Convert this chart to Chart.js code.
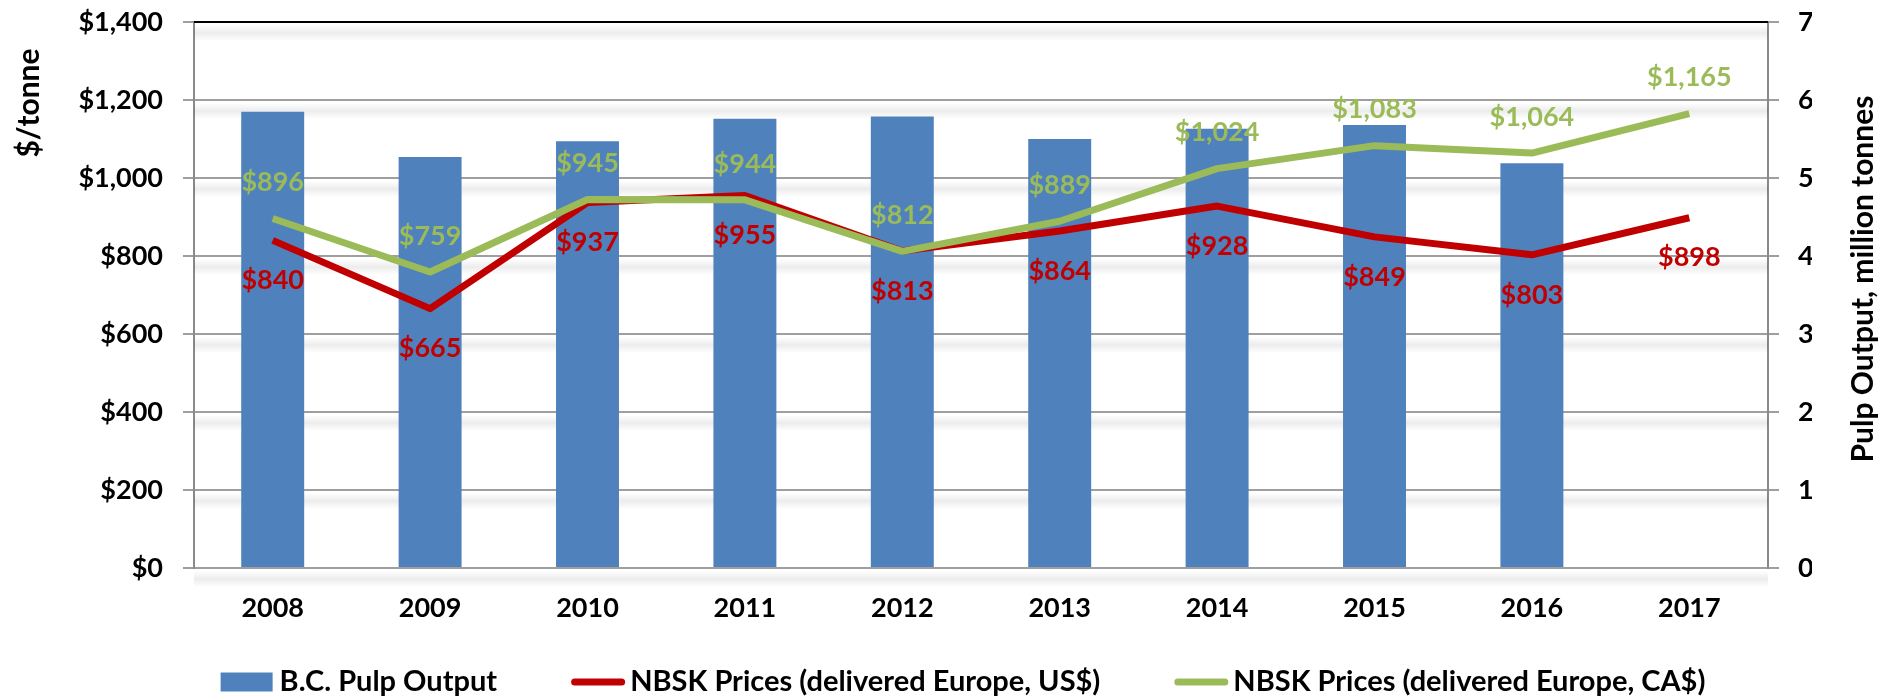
<!DOCTYPE html>
<html>
<head>
<meta charset="utf-8">
<title>B.C. Pulp Output and NBSK Prices</title>
<script src="https://cdn.jsdelivr.net/npm/chart.js@4.4.1/dist/chart.umd.min.js"></script>
<style>
  html, body { margin: 0; padding: 0; background: #ffffff; }
  #wrap { width: 1888px; height: 699px; position: relative; }
</style>
</head>
<body>
<div id="wrap"><canvas id="pulpChart"></canvas></div>
<script>
// values
const years = ["2008", "2009", "2010", "2011", "2012", "2013", "2014", "2015", "2016", "2017"];
const pulpOutput = [5.85, 5.27, 5.47, 5.76, 5.79, 5.50, 5.63, 5.68, 5.19, null]; // million tonnes
const nbskUS = [840, 665, 937, 955, 813, 864, 928, 849, 803, 898];
const nbskCA = [896, 759, 945, 944, 812, 889, 1024, 1083, 1064, 1165];
const seriesNames = [
  "B.C. Pulp Output",
  "NBSK Prices (delivered Europe, US$)",
  "NBSK Prices (delivered Europe, CA$)"
];
const priceAxisTitle = "$/tonne";
const outputAxisTitle = "Pulp Output, million tonnes";

const BLUE = "#4F81BD";
const RED = "#C00000";
const GREEN = "#9BBB59";
const GRID = "#9F9F9F";
const FONT = "Lato, 'Open Sans', sans-serif";

const money = (v) => "$" + v.toLocaleString("en-US");

document.addEventListener("DOMContentLoaded", function () {
  const ctx = document.getElementById("pulpChart").getContext("2d");

  // soft grey shadow under every gridline, like the original
  const gridShadow = {
    id: "gridShadow",
    beforeDatasetsDraw(chart) {
      const c = chart.ctx;
      const yScale = chart.scales.y;
      const { left, right } = chart.chartArea;
      c.save();
      yScale.ticks.forEach((t) => {
        const py = yScale.getPixelForValue(t.value);
        const g = c.createLinearGradient(0, py + 3, 0, py + 19);
        g.addColorStop(0, "rgba(0,0,0,0)");
        g.addColorStop(0.5, "rgba(0,0,0,0.075)");
        g.addColorStop(1, "rgba(0,0,0,0)");
        c.fillStyle = g;
        c.fillRect(left, py + 3, right - left, 16);
      });
      c.restore();
    }
  };

  // value labels: US$ below its line, CA$ above its line
  const pointLabels = {
    id: "pointLabels",
    afterDatasetsDraw(chart) {
      const c = chart.ctx;
      c.save();
      c.font = "bold 27px " + FONT;
      c.textAlign = "center";
      c.textBaseline = "middle";
      [[1, 40], [2, -36]].forEach(([idx, dy]) => {
        const ds = chart.data.datasets[idx];
        c.fillStyle = ds.borderColor;
        chart.getDatasetMeta(idx).data.forEach((pt, i) => {
          c.fillText(money(ds.data[i]), pt.x, pt.y + dy);
        });
      });
      c.restore();
    }
  };

  // axis titles, top border and legend
  const frame = {
    id: "frame",
    afterDraw(chart) {
      const c = chart.ctx;
      const area = chart.chartArea;
      c.save();

      c.strokeStyle = "#000";
      c.lineWidth = 2;
      c.beginPath();
      c.moveTo(area.left, area.top);
      c.lineTo(area.right, area.top);
      c.stroke();

      c.fillStyle = "#000";
      c.font = "bold 30px " + FONT;
      c.textAlign = "center";
      c.textBaseline = "middle";
      c.save();
      c.translate(29, 103);
      c.rotate(-Math.PI / 2);
      c.fillText(priceAxisTitle, 0, 0);
      c.restore();
      c.save();
      c.translate(1863, 279);
      c.rotate(-Math.PI / 2);
      c.fillText(outputAxisTitle, 0, 0);
      c.restore();

      // legend
      const markW = 54, gap = 5, spacing = 74, cy = 682;
      c.font = "bold 29px " + FONT;
      c.textAlign = "left";
      const items = chart.data.datasets.map((ds) => ({
        text: ds.label,
        color: ds.type === "line" ? ds.borderColor : ds.backgroundColor,
        isLine: ds.type === "line",
        w: c.measureText(ds.label).width
      }));
      const total = items.reduce((s, it) => s + markW + gap + it.w, 0) + spacing * (items.length - 1);
      let x = chart.width / 2 + 19 - total / 2;
      items.forEach((it) => {
        if (it.isLine) {
          c.strokeStyle = it.color;
          c.lineWidth = 7;
          c.lineCap = "round";
          c.beginPath();
          c.moveTo(x + 3.5, cy);
          c.lineTo(x + markW - 3.5, cy);
          c.stroke();
        } else {
          c.fillStyle = it.color;
          c.fillRect(x, cy - 9.5, markW - 2, 19);
        }
        c.fillStyle = "#000";
        c.fillText(it.text, x + markW + gap, cy);
        x += markW + gap + it.w + spacing;
      });
      c.restore();
    }
  };

  const data = {
    labels: years,
    datasets: [
      {
        type: "bar",
        label: seriesNames[0],
        data: pulpOutput,
        yAxisID: "y2",
        backgroundColor: BLUE,
        borderWidth: 0,
        categoryPercentage: 1.0,
        barPercentage: 0.4,
        order: 3
      },
      {
        type: "line",
        label: seriesNames[1],
        data: nbskUS,
        yAxisID: "y",
        borderColor: RED,
        backgroundColor: RED,
        borderWidth: 7,
        borderJoinStyle: "round",
        tension: 0,
        pointRadius: 0,
        order: 2
      },
      {
        type: "line",
        label: seriesNames[2],
        data: nbskCA,
        yAxisID: "y",
        borderColor: GREEN,
        backgroundColor: GREEN,
        borderWidth: 7,
        borderJoinStyle: "round",
        tension: 0,
        pointRadius: 0,
        order: 1
      }
    ]
  };

  const tickFont = { family: FONT, size: 27, weight: "bold" };

  // fixed axis sizes so the plot sits where the original one does
  const fixSide = (w) => (s) => {
    s.width = w;
    s.paddingTop = 0;
    s.paddingBottom = 0;
  };

  const config = {
    data: data,
    options: {
      responsive: true,
      maintainAspectRatio: false,
      animation: false,
      layout: { padding: { left: 60, right: 76, top: 22, bottom: 67 } },
      plugins: {
        legend: { display: false },
        tooltip: { enabled: false }
      },
      scales: {
        x: {
          grid: { display: false },
          border: { display: true, color: GRID, width: 2 },
          ticks: { color: "#000", font: tickFont, padding: 16, maxRotation: 0 },
          afterFit: (s) => { s.height = 64; }
        },
        y: {
          position: "left",
          min: 0,
          max: 1400,
          ticks: { stepSize: 200, color: "#000", font: tickFont, padding: 20, callback: (v) => money(v) },
          grid: { color: GRID, lineWidth: 2, tickLength: 11 },
          border: { color: "#8A8A8A", width: 2 },
          afterFit: fixSide(134)
        },
        y2: {
          position: "right",
          min: 0,
          max: 7,
          ticks: { stepSize: 1, color: "#000", font: tickFont, padding: 19 },
          grid: { drawOnChartArea: false, color: GRID, lineWidth: 2, tickLength: 11 },
          border: { color: "#8A8A8A", width: 2 },
          afterFit: fixSide(44)
        }
      }
    },
    plugins: [gridShadow, pointLabels, frame]
  };

  new Chart(ctx, config);
});
</script>
</body>
</html>
